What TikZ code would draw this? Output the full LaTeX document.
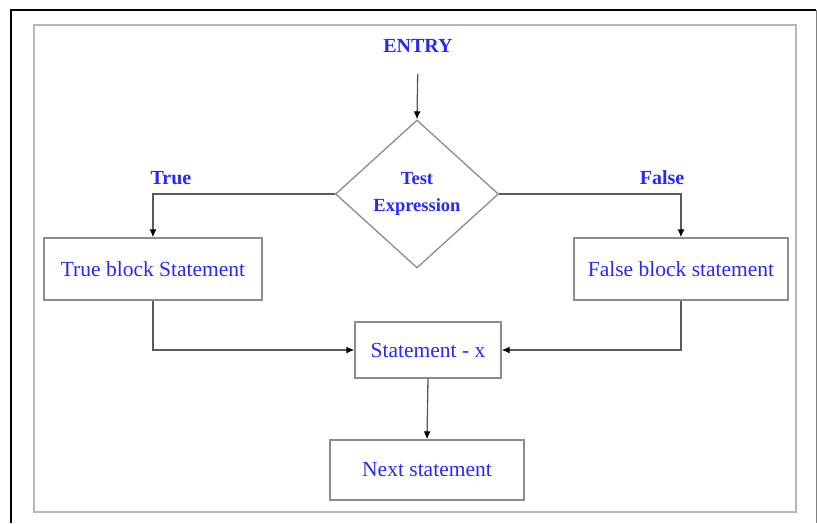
\documentclass[tikz,border=0pt]{standalone}
\usepackage{fontspec}
\setmainfont{Liberation Serif}
\usepackage{tikz}
\usetikzlibrary{shapes.geometric}
\usetikzlibrary{arrows.meta}
\definecolor{textblue}{RGB}{40,40,250}
\definecolor{boxgray}{RGB}{140,140,140}
\definecolor{linegray}{RGB}{90,90,90}

\begin{document}
\begin{tikzpicture}[x=1pt, y=-1pt, >={Latex[length=8pt, width=7pt, color=black]},
		block/.style={draw=boxgray, line width=1.3pt, rectangle, inner sep=0pt, text=textblue, font=\fontsize{21.5}{24}\selectfont},
		decision/.style={draw=boxgray, line width=1.3pt, diamond, inner sep=0pt, align=center, text=textblue, font=\bfseries\fontsize{18.5}{27}\selectfont},
		tag/.style={text=textblue, font=\bfseries\fontsize{20}{24}\selectfont},
		flow/.style={->, draw=linegray, line width=1.3pt}]
			\useasboundingbox (0,0) rectangle (817,523);
			\draw[line width=2pt] (11,523) -- (11,10) -- (816,10);
			\draw[line width=1pt, color=gray] (816,10) -- (816,523);
			\draw[line width=2.5pt, color=black!28] (34,25) rectangle (796,512);
			\node[tag] (entry) at (418,46) {ENTRY};
			\node[decision, minimum width=163pt, minimum height=148pt] (test) at (417,194) {Test\\Expression};
			\node[tag] (truetag) at (171,178) {True};
			\node[tag] (falsetag) at (662,178) {False};
			\node[block, minimum width=218pt, minimum height=62pt] (trueblk) at (153,269) {True block Statement};
			\node[block, minimum width=214pt, minimum height=62pt] (falseblk) at (681,269) {False block statement};
			\node[block, minimum width=146pt, minimum height=56pt] (stmtx) at (428,350) {Statement - x};
			\node[block, minimum width=194pt, minimum height=60pt] (nextstmt) at (427,470) {Next statement};
			\draw[flow, shorten <=18pt] (entry.south) -- (test.north);
			\draw[flow] (test.west) -| (trueblk.north);
			\draw[flow] (test.east) -| (falseblk.north);
			\draw[flow] (trueblk.south) |- (stmtx.west);
			\draw[flow] (falseblk.south) |- (stmtx.east);
			\draw[flow] (stmtx.south) -- (nextstmt.north);
		\end{tikzpicture}
\end{document}
